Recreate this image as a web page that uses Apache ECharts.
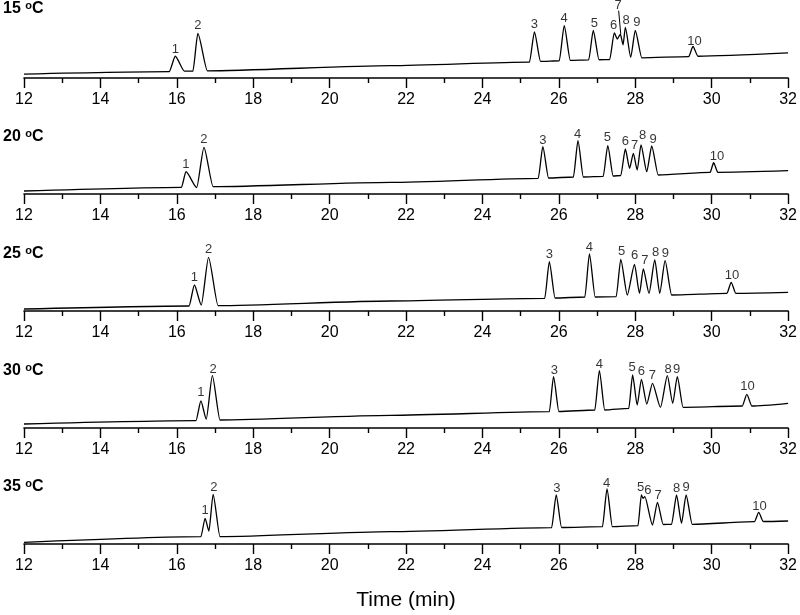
<!DOCTYPE html>
<html>
<head>
<meta charset="utf-8">
<script src="https://cdn.jsdelivr.net/npm/echarts@6/dist/echarts.min.js"></script>
<style>
  html, body { margin: 0; padding: 0; background: #fff; }
  #chart { width: 800px; height: 615px; }
</style>
</head>
<body>
<div id="chart"></div>
<script>
// Temperatures of the five chromatograms (top to bottom)
const temps = ['15', '20', '25', '30', '35'];
const peakNames = ['1', '2', '3', '4', '5', '6', '7', '8', '9', '10'];

// Detector traces: [time (min), signal (px above the axis)]
const trace15 = [[12, 4], [15.8, 6.5], [15.96, 22.3], [16.2, 7], [16.42, 7], [16.55, 45.7], [16.8, 7.3],
  [21.6, 12.7], [25.23, 16.3], [25.36, 47.3], [25.52, 17], [26.01, 17.7], [26.14, 53.7], [26.3, 18],
  [26.78, 18.5], [26.9, 48.7], [27.05, 18.7], [27.33, 19], [27.45, 46.3], [27.53, 40], [27.61, 45],
  [27.68, 34], [27.74, 52], [27.88, 21.3], [28.0, 48.7], [28.17, 20.7], [29.4, 22], [29.51, 32.3],
  [29.64, 22.3], [32, 25.7]];
const trace20 = [[12, 3], [16.12, 6.7], [16.24, 22.3], [16.52, 6.5], [16.71, 46.7], [16.95, 7.3],
  [21.6, 11.7], [25.46, 15.7], [25.58, 47.3], [25.73, 16], [26.38, 17], [26.5, 53.3], [26.64, 17],
  [27.16, 17.7], [27.28, 48.3], [27.42, 18], [27.62, 18.5], [27.74, 45], [27.85, 25.7], [27.95, 40.7],
  [28.05, 24], [28.15, 49], [28.3, 22.3], [28.43, 48], [28.6, 19], [29.96, 21.7], [30.05, 31.3],
  [30.16, 21.7], [32, 23.3]];
const trace25 = [[12, 2], [16.32, 5], [16.46, 26], [16.64, 6], [16.83, 53.7], [17.08, 5.3],
  [21.6, 10], [25.63, 12.7], [25.75, 49.3], [25.9, 13], [26.68, 14], [26.8, 57], [26.95, 14],
  [27.5, 14.3], [27.62, 51.7], [27.79, 16], [27.98, 46.7], [28.11, 17.7], [28.21, 42], [28.36, 17.7],
  [28.51, 51], [28.64, 17.7], [28.78, 50.3], [28.95, 16], [30.4, 17.7], [30.51, 28.7], [30.63, 17.7],
  [32, 18.7]];
const trace30 = [[12, 4], [16.5, 7.3], [16.63, 27], [16.77, 9], [16.93, 52.3], [17.13, 8],
  [21.6, 12.7], [25.75, 16.3], [25.86, 51.3], [26.0, 16.5], [26.94, 18], [27.06, 57.3], [27.2, 18],
  [27.83, 19.7], [27.93, 53], [28.05, 23], [28.16, 48.7], [28.3, 24], [28.45, 44.7], [28.66, 20.7],
  [28.84, 52.3], [28.98, 24.7], [29.1, 51.3], [29.25, 20.7], [30.8, 22], [30.92, 33.7], [31.05, 22],
  [32, 24.7]];
const trace35 = [[12, 1.7], [16.63, 7.3], [16.74, 25.7], [16.84, 13], [16.95, 49.7], [17.13, 7.3],
  [21.6, 12.3], [25.81, 16.3], [25.93, 49], [26.07, 16.5], [27.14, 17.3], [27.26, 55], [27.4, 17.3],
  [28.07, 18.3], [28.16, 49], [28.2, 45.7], [28.25, 47.3], [28.45, 19], [28.58, 41.7], [28.73, 19.5],
  [28.95, 19.7], [29.08, 49], [29.21, 20.7], [29.33, 49], [29.49, 19.7], [31.12, 22.3], [31.23, 31.7],
  [31.35, 22.5], [32, 23]];

// Peak number labels: time and height where each number sits
const labelTime15 = [15.96, 16.55, 25.36, 26.14, 26.93, 27.43, 27.55, 27.76, 28.04, 29.55];
const labelLevel15 = [29, 54, 55.3, 61.3, 56, 54, 74, 59, 56.7, 38];
const labelTime20 = [16.24, 16.71, 25.58, 26.49, 27.27, 27.74, 27.98, 28.19, 28.47, 30.14];
const labelLevel20 = [29.7, 54.7, 53.3, 60, 56.3, 52.3, 48.3, 58.3, 55, 37.3];
const labelTime25 = [16.46, 16.83, 25.75, 26.8, 27.64, 27.98, 28.25, 28.53, 28.79, 30.53];
const labelLevel25 = [33.3, 61.7, 57, 63.7, 59.3, 55.3, 51, 58.7, 57.7, 36];
const labelTime30 = [16.63, 16.95, 25.88, 27.06, 27.92, 28.16, 28.45, 28.86, 29.08, 30.94];
const labelLevel30 = [35.3, 58.7, 58, 64, 60.3, 57, 52.3, 58.7, 58.7, 41.3];
const labelTime35 = [16.74, 16.97, 25.95, 27.25, 28.14, 28.33, 28.6, 29.08, 29.33, 31.25];
const labelLevel35 = [33.3, 56.3, 55.7, 60.7, 56.3, 54, 49, 55.7, 56.3, 37.3];

// leader from label 7 down to its peak in the 15 oC run
const leader15 = [[27.565, 69], [27.62, 45]];

const traces = [trace15, trace20, trace25, trace30, trace35];
const labelTimes = [labelTime15, labelTime20, labelTime25, labelTime30, labelTime35];
const labelLevels = [labelLevel15, labelLevel20, labelLevel25, labelLevel30, labelLevel35];

// pixel row of each panel's time axis
const axisRows = [78, 194, 311, 428, 544];
const titleRows = [9, 137.5, 254, 371, 487.5];
const FONT = '"Liberation Sans", Arial, sans-serif';

const chart = echarts.init(document.getElementById('chart'));

const grids = [], xAxes = [], yAxes = [], series = [], graphics = [];

temps.forEach((t, i) => {
  grids.push({ left: 24, right: 9, top: axisRows[i] - 80, height: 80 });
  xAxes.push({
    type: 'value', gridIndex: i, min: 12, max: 32, interval: 2,
    name: i === temps.length - 1 ? 'Time (min)' : '',
    nameLocation: 'middle', nameGap: 46,
    nameTextStyle: { fontFamily: FONT, fontSize: 21, color: '#000' },
    axisLine: { onZero: false, lineStyle: { color: '#000', width: 1.6 } },
    axisTick: { show: true, inside: false, length: 10, lineStyle: { color: '#000', width: 1.4 } },
    minorTick: { show: true, splitNumber: 2, length: 5, lineStyle: { color: '#000', width: 1.4 } },
    axisLabel: { fontFamily: FONT, fontSize: 16, color: '#000', margin: 14 },
    splitLine: { show: false }
  });
  yAxes.push({ type: 'value', gridIndex: i, min: 0, max: 80, show: false });

  // smoothMonotone 'x' keeps tangents level, so peak flanks flare without overshoot
  series.push({
    type: 'line', xAxisIndex: i, yAxisIndex: i,
    data: traces[i], showSymbol: false, symbol: 'none',
    smooth: 0.22, smoothMonotone: 'x',
    lineStyle: { color: '#000', width: 1.3 }, silent: true, clip: false
  });
  series.push({
    type: 'scatter', xAxisIndex: i, yAxisIndex: i, symbolSize: 1, clip: false,
    itemStyle: { color: 'rgba(0,0,0,0)' }, silent: true,
    data: peakNames.map((n, k) => ({ name: n, value: [labelTimes[i][k], labelLevels[i][k]] })),
    label: {
      show: true, position: 'inside', formatter: p => p.name,
      fontFamily: FONT, fontSize: 13, color: '#000'
    }
  });

  graphics.push({
    type: 'text', left: 3, top: titleRows[i] - 9,
    style: {
      text: '{a|' + t + ' }{b|o}{a|C}',
      rich: {
        a: { fontFamily: FONT, fontSize: 16, fontWeight: 'bold', fill: '#000', color: '#000' },
        b: { fontFamily: FONT, fontSize: 11, fontWeight: 'bold', fill: '#000', color: '#000', verticalAlign: 'top', padding: [0, 0, 6, 0] }
      }
    }
  });
});

series.push({
  type: 'line', xAxisIndex: 0, yAxisIndex: 0, data: leader15, symbol: 'none',
  lineStyle: { color: '#000', width: 1 }, silent: true, clip: false
});

chart.setOption({
  animation: false,
  grid: grids,
  xAxis: xAxes,
  yAxis: yAxes,
  series: series,
  graphic: graphics
});
</script>
</body>
</html>
